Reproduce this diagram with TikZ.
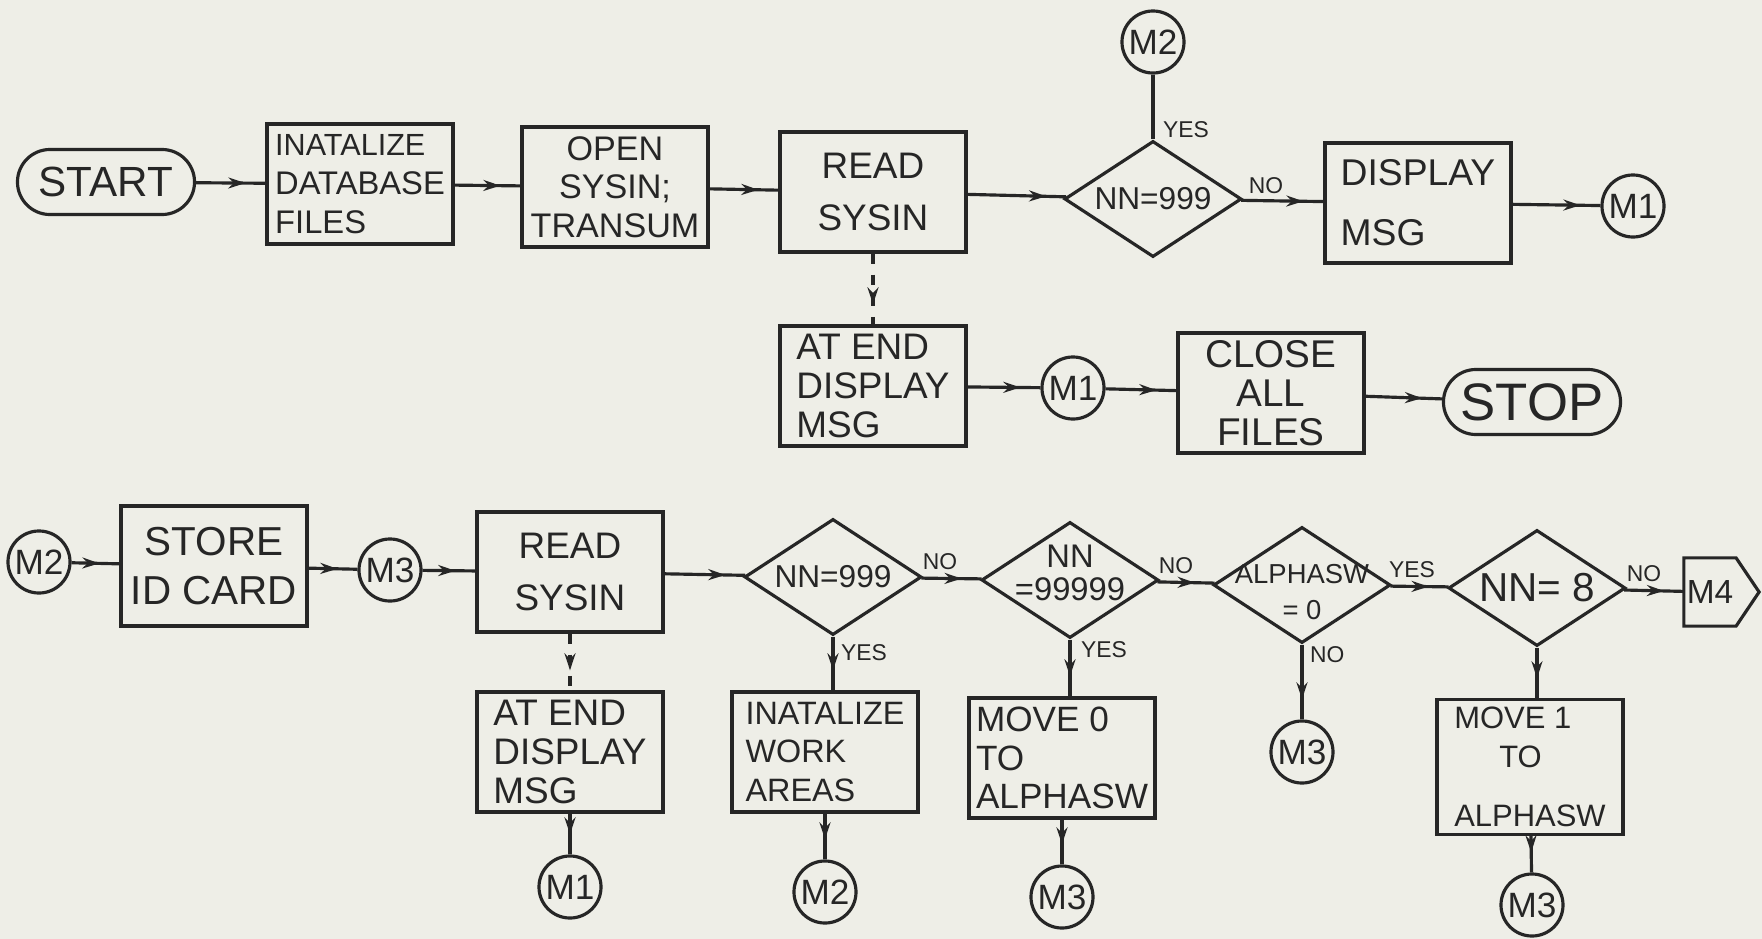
\documentclass[tikz,border=0pt]{standalone}
\usepackage{fontspec}
\setmainfont{Liberation Sans}
\usepackage{tikz}
\usetikzlibrary{arrows.meta,positioning,shapes.geometric,shapes.misc,decorations.markings}
\definecolor{fpaper}{HTML}{EEEEE7}
\definecolor{fink}{HTML}{262626}

\begin{document}
\begin{tikzpicture}[x=0.01cm,y=-0.01cm,color=fink,line width=0.9pt,
  fs/.style={font=\fontsize{#1}{11}\selectfont},
  box/.style={draw,rectangle,minimum width=1.86cm,minimum height=1.2cm,inner sep=2pt,
              align=left,fs=10},
  term/.style={draw,rounded rectangle,minimum width=1.84cm,minimum height=0.65cm,inner sep=1pt},
  decide/.style={draw,diamond,minimum width=1.77cm,minimum height=1.16cm,inner sep=0pt},
  dtext/.style={align=center,inner sep=0pt},
  conn/.style={draw,circle,minimum size=0.62cm,inner sep=0pt,fs=10},
  offpage/.style={rectangle,minimum width=0.49cm,minimum height=0.65cm,inner sep=0pt,fs=9.5},
  tag/.style={inner sep=1pt,fs=6.5},
  flow/.style={postaction={decorate},decoration={markings,
               mark=at position -0.2cm with {\arrow{Stealth[length=1.7mm,width=1.1mm]}}}}]
  \fill[fpaper] (0,0) rectangle (1762,939);
  \useasboundingbox (0,0) rectangle (1762,939);

  % upper part: open files and first read
  \node[term,fs=12] (start) at (106,182) {START};
  \node[box,fs=9.3] (initdb) at (360,184) {{\fontsize{8.7}{11}\selectfont INATALIZE}\\DATABASE\\FILES};
  \node[box,fs=9.7,align=center] (opensys) at (615,187) {OPEN\\SYSIN;\\TRANSUM};
  \node[box,fs=10.5,align=center] (read) at (873,192) {READ\\[4pt]SYSIN};
  \node[decide,label={[dtext,fs=9]center:NN=999}] (test) at (1153,199) {};
  \node[conn] (mtwo) at (1153,42) {M2};
  \node[box,fs=10.6] (dispmsg) at (1418,203) {DISPLAY\\[6pt]MSG};
  \node[conn] (mone) at (1633,206) {M1};
  \node[box,fs=10.5] (atend) at (873,386) {AT END\\DISPLAY\\MSG};
  \node[conn] (moneB) at (1073,388) {M1};
  \node[box,fs=11,align=center] (closeall) at (1271,393) {CLOSE\\ALL\\FILES};
  \node[term,fs=15] (stop) at (1532,402) {STOP};

  \draw[flow] (start) -- (initdb);
  \draw[flow] (initdb) -- (opensys);
  \draw[flow] (opensys) -- (read);
  \draw[flow] (read) -- (test);
  \draw (test.north) -- (mtwo);
  \node[tag,anchor=west] (yesA) at (1158,130) {YES};
  \draw[flow] (test) -- (dispmsg);
  \node[tag] (noA) at (1266,186) {NO};
  \draw[flow] (dispmsg) -- (mone);
  \draw[flow,dashed] (read) -- (atend);
  \draw[flow] (atend) -- (moneB);
  \draw[flow] (moneB) -- (closeall);
  \draw[flow] (closeall) -- (stop);

  % lower part: main loop
  \node[conn] (mtwoB) at (39,562) {M2};
  \node[box,fs=11.5,align=center] (store) at (214,566) {STORE\\[3pt]ID CARD};
  \node[conn] (mthree) at (390,570) {M3};
  \node[box,fs=10.5,align=center] (readB) at (570,572) {READ\\[4pt]SYSIN};
  \node[decide,label={[dtext,fs=9]center:NN=999}] (testB) at (833,577) {};
  \node[box,fs=10.5] (atendB) at (570,752) {AT END\\DISPLAY\\MSG};
  \node[conn] (moneC) at (570,887) {M1};
  \node[box,fs=9.2] (initwork) at (825,752) {INATALIZE\\WORK\\AREAS};
  \node[conn] (mtwoC) at (825,892) {M2};
  \node[decide,label={[dtext,font=\fontsize{9.3}{9.5}\selectfont,yshift=2pt]center:NN\\=99999}] (testC) at (1070,580) {};
  \node[box,fs=10] (movezero) at (1062,758) {MOVE 0\\TO\\ALPHASW};
  \node[conn] (mthreeB) at (1062,897) {M3};
  \node[decide,label={[dtext,font=\fontsize{7.8}{10}\selectfont,yshift=-2pt]center:ALPHASW\\= 0}] (testD) at (1302,585) {};
  \node[conn] (mthreeC) at (1302,752) {M3};
  \node[decide,label={[dtext,fs=11.5]center:NN= 8}] (testE) at (1537,588) {};
  \node[box,fs=8.8] (moveone) at (1530,767) {MOVE 1\\\hspace*{0.45cm}TO\\[6pt]ALPHASW};
  \node[conn] (mthreeD) at (1532,905) {M3};
  \node[offpage] (mfour) at (1710,592) {M4};
  \draw (mfour.north west) -- (mfour.north east) -- ([xshift=0.23cm]mfour.east)
        -- (mfour.south east) -- (mfour.south west) -- cycle;

  \draw[flow] (mtwoB) -- (store);
  \draw[flow] (store) -- (mthree);
  \draw[flow] (mthree) -- (readB);
  \draw[flow] (readB) -- (testB);
  \draw[flow,dashed] (readB) -- (atendB);
  \draw[flow] (atendB) -- (moneC);
  \draw[flow] (testB.south) -- (testB.south |- initwork.north);
  \node[tag,anchor=west] (yesB) at (836,653) {YES};
  \draw[flow] (initwork) -- (mtwoC);
  \draw[flow] (testB) -- (testC);
  \node[tag] (noB) at (940,562) {NO};
  \draw[flow] (testC.south) -- (testC.south |- movezero.north);
  \node[tag,anchor=west] (yesC) at (1076,650) {YES};
  \draw[flow] (movezero) -- (mthreeB);
  \draw[flow] (testC) -- (testD);
  \node[tag] (noC) at (1176,566) {NO};
  \draw[flow] (testD) -- (mthreeC);
  \node[tag,anchor=west] (noD) at (1305,655) {NO};
  \draw[flow] (testD) -- (testE);
  \node[tag] (yesD) at (1412,570) {YES};
  \draw[flow] (testE.south) -- (testE.south |- moveone.north);
  \draw[flow] (moveone) -- (mthreeD);
  \draw[flow] (testE) -- (mfour);
  \node[tag] (noE) at (1644,574) {NO};
\end{tikzpicture}
\end{document}
